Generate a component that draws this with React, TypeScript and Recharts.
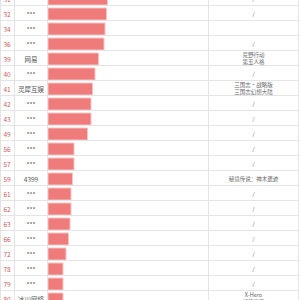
import { BarChart, Bar, XAxis, YAxis } from "recharts";

const ranks = ["31", "32", "34", "36", "39", "40", "41", "42", "43", "49", "56", "57", "59", "61", "62", "63", "66", "72", "78", "79", "80"];
const companies = ["***", "***", "***", "***", "网易", "***", "灵犀互娱", "***", "***", "***", "***", "***", "4399", "***", "***", "***", "***", "***", "***", "***", "冰川网络"];
const games = ["/", "/", "", "/", "荒野行动\n第五人格", "/", "三国志·战略版\n三国志幻想大陆", "/", "/", "/", "/", "/", "秘境传说：神木遗迹", "/", "/", "/", "/", "/", "/", "/", "X-Hero\n超能世界"];
const scores = [59.5, 58.5, 57, 56, 50.5, 47, 44.5, 43, 43, 39.5, 26, 26, 24.5, 23, 23, 22, 20.5, 18, 15, 15, 15];

const data = ranks.map((rank, i) => ({ rank, score: scores[i] }));

const ROW_H = 15;
const W = 299;
const COLS = [0.5, 14.5, 47.5, 208.5, 298.5];
const LINE = "#e4e4e4";
const FONT = "'Noto Sans CJK SC', 'Noto Sans', sans-serif";

function Borders({ y }: { y: number }) {
  const top = y - ROW_H / 2;
  return (
    <g>
      <line x1={0} x2={W} y1={top + ROW_H - 0.5} y2={top + ROW_H - 0.5} stroke={LINE} />
      {COLS.map((x) => (
        <line key={x} x1={x} x2={x} y1={top} y2={top + ROW_H} stroke={LINE} />
      ))}
    </g>
  );
}

function LeftTick(props: any) {
  const { y, index } = props;
  return (
    <g>
      <Borders y={y} />
      <text x={7} y={y} textAnchor="middle" dominantBaseline="central" fontSize={6.5} fill="#cc5a5e" fontFamily={FONT}>
        {ranks[index]}
      </text>
      <text x={31} y={y} textAnchor="middle" dominantBaseline="central" fontSize={6.5} fill="#555" fontFamily={FONT}>
        {companies[index]}
      </text>
    </g>
  );
}

function RightTick(props: any) {
  const { y, index } = props;
  const lines = games[index].split("\n");
  const step = 6.5;
  const start = y - ((lines.length - 1) * step) / 2;
  return (
    <g>
      {lines.map((t, i) => (
        <text key={i} x={253.5} y={start + i * step} textAnchor="middle" dominantBaseline="central" fontSize={5.5} fill="#666" fontFamily={FONT}>
          {t}
        </text>
      ))}
    </g>
  );
}

export default function App() {
  return (
    <div style={{ position: "absolute", left: 0, top: -9, width: 300, height: ranks.length * ROW_H }}>
      <BarChart
        width={300}
        height={ranks.length * ROW_H}
        data={data}
        layout="vertical"
        margin={{ top: 0, right: 0, bottom: 0, left: 0 }}
      >
        <XAxis type="number" hide domain={[0, 160]} />
        <YAxis
          yAxisId="left"
          type="category"
          dataKey="rank"
          width={48}
          axisLine={false}
          tickLine={false}
          interval={0}
          tick={<LeftTick />}
        />
        <YAxis
          yAxisId="right"
          type="category"
          dataKey="rank"
          orientation="right"
          width={92}
          axisLine={false}
          tickLine={false}
          interval={0}
          tick={<RightTick />}
        />
        <Bar yAxisId="left" dataKey="score" fill="#ef7b7b" stroke="#f7c4c4" strokeWidth={1} barSize={12} isAnimationActive={false} />
      </BarChart>
    </div>
  );
}
